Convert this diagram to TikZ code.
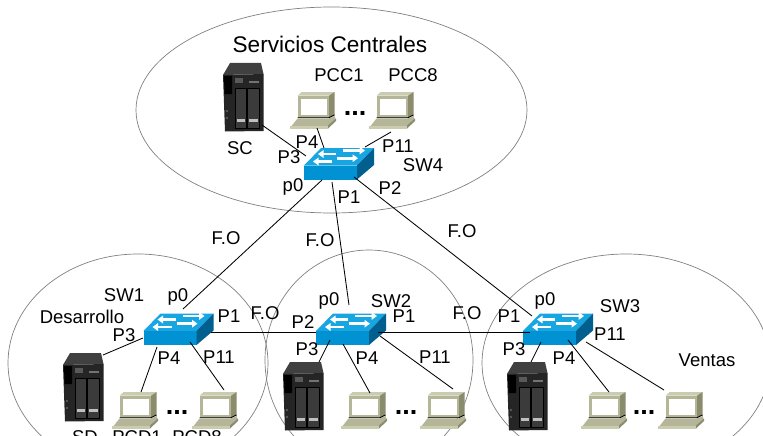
\documentclass[tikz,border=0pt]{standalone}
\usepackage{fontspec}
\setmainfont{Liberation Sans}
\usetikzlibrary{arrows.meta}
\definecolor{swfront}{HTML}{0092D2}
\definecolor{swtop}{HTML}{17A6E2}
\definecolor{swside}{HTML}{005F8E}
\definecolor{pcface}{HTML}{B5B597}
\definecolor{pcdark}{HTML}{8B8B6D}
\definecolor{pclight}{HTML}{CBCBB0}
\definecolor{srvdark}{HTML}{252525}
\definecolor{srvtop}{HTML}{404040}
\definecolor{srvbay}{HTML}{3B3B3B}
\tikzset{
  x=1pt,y=-1pt,
  zone/.style={draw=black!50,line width=0.7pt},
  link/.style={draw=black,line width=0.85pt},
  lab/.style={inner sep=0pt,font=\fontsize{18.5}{20}\selectfont},
  title/.style={inner sep=0pt,font=\fontsize{22.6}{24}\selectfont},
  dots/.style={inner sep=0pt,font=\fontsize{27}{28}\selectfont\bfseries},
  swarrow/.style={draw=white,line width=2.6pt,-{Triangle[length=5.5pt,width=7.5pt]}},
  swicon/.pic={
    \node[inner sep=0pt,minimum width=70pt,minimum height=31pt] (-box) at (35,-4) {};
    \fill[swtop] (0,0) -- (17,-17.5) -- (70,-17.5) -- (53,0) -- cycle;
    \fill[swfront] (0,0) rectangle (53,14);
    \fill[swside] (53,0) -- (70,-17.5) -- (70,-0.5) -- (53,14) -- cycle;
    \draw[swarrow] (39,-15) -- (61,-15);
    \draw[swarrow] (32,-11.5) -- (14,-11.5);
    \draw[swarrow] (33,-7.3) -- (54,-7.3);
    \draw[swarrow] (28,-4) -- (9,-4);
  },
  srvicon/.pic={
    \node[inner sep=0pt,minimum width=41pt,minimum height=69pt] (-box) at (20.5,34.5) {};
    \fill[srvtop] (0,12) -- (7,0) -- (38,0) -- (40.5,11) -- cycle;
    \fill[srvdark] (0,12) -- (40.5,11) -- (40.5,68) -- (2,68.5) -- cycle;
    \fill[black] (1,13) -- (9,13) -- (9,31) -- (1.5,31) -- cycle;
    \fill[black!65] (12,15) rectangle (20,20);
    \fill[black!55] (26,18) rectangle (36,20);
    \fill[black!60] (4,48) circle (1.2);
    \fill[black!60] (4,55) circle (1.2);
    \draw[black,line width=1pt,fill=srvbay] (12.5,25) rectangle (23.5,65);
    \draw[black,line width=1pt,fill=srvbay] (24.5,25) rectangle (36,65);
    \fill[black!25] (14,56) rectangle (22,58.5);
    \fill[black!25] (26,56) rectangle (34.5,58.5);
  },
  pcicon/.pic={
    \node[inner sep=0pt,minimum width=46pt,minimum height=37pt] (-box) at (23,18.5) {};
    \fill[pclight] (7.5,3.7) -- (11.7,0) -- (44.5,0) -- (39,3.7) -- cycle;
    \fill[pcface] (7.5,3.7) rectangle (39,25.5);
    \fill[pcdark] (39,3.7) -- (44.5,0) -- (44.5,23) -- (39,25.5) -- cycle;
    \fill[white] (11,6.7) rectangle (36.5,22.7);
    \fill[pcface] (7.5,26.5) -- (0,36) -- (38,36) -- (46,28) -- (44.5,24) -- (39,26.5) -- cycle;
    \fill[pcdark] (38,36.5) -- (46,29) -- (46,26.5) -- (38,33.5) -- cycle;
    \fill[pclight] (0,34) -- (38,34) -- (38,37) -- (0,37) -- cycle;
    \draw[black,line width=0.9pt] (7.5,25.7) -- (39,25.7) -- (44.5,23);
  }
}
\begin{document}
\begin{tikzpicture}
\useasboundingbox (0,0) rectangle (763,436);
\clip (0,0) rectangle (763,436);
% zones
\draw[zone] (331.5,110) ellipse [x radius=195.5,y radius=103];
\draw[zone] (138,363) ellipse [x radius=130,y radius=109];
\draw[zone] (369,360) ellipse [x radius=104,y radius=110];
\draw[zone] (626,363) ellipse [x radius=144,y radius=109];
% switches
\pic (sw4) at (304,165.5) {swicon};
\pic (sw1) at (143.5,331) {swicon};
\pic (sw2) at (316,331) {swicon};
\pic (sw3) at (523,331) {swicon};
% servers
\pic (sc) at (223,63) {srvicon};
\pic (sd) at (63,353) {srvicon};
\pic (sb) at (283,362) {srvicon};
\pic (sv) at (507,362) {srvicon};
% hosts
\pic (pcc1) at (290,92) {pcicon};
\pic (pcc8) at (369,92) {pcicon};
\pic (pcd1) at (112,392) {pcicon};
\pic (pcd8) at (192,392) {pcicon};
\pic (pcb1) at (341,392) {pcicon};
\pic (pcb8) at (420,392) {pcicon};
\pic (pcv1) at (581,392) {pcicon};
\pic (pcv8) at (658,392) {pcicon};
% port points
\coordinate (sc-p) at (262,125);
\coordinate (sw4-p3) at (306,156);
\coordinate (pcc1-p) at (317,128);
\coordinate (sw4-p4) at (324,148);
\coordinate (pcc8-p) at (391,132);
\coordinate (sw4-p11) at (365,147);
\coordinate (sw4-p0) at (322,180);
\coordinate (sw1-p0) at (183,309);
\coordinate (sw4-p1) at (332,182);
\coordinate (sw2-p0) at (349,305);
\coordinate (sw4-p2) at (354,177);
\coordinate (sw3-p0) at (532,316);
\coordinate (sw1-p1) at (211,332);
\coordinate (sw2-p2) at (316,332);
\coordinate (sw2-p1) at (378,332);
\coordinate (sw3-p1) at (530,332);
\coordinate (sw1-p3) at (143,338);
\coordinate (sd-p) at (103,355);
\coordinate (sw1-p4) at (157,347);
\coordinate (pcd1-p) at (141,392);
\coordinate (sw1-p11) at (190,342);
\coordinate (pcd8-p) at (224,390);
\coordinate (sw2-p3) at (330,340);
\coordinate (sb-p) at (319,362);
\coordinate (sw2-p4) at (343,344);
\coordinate (pcb1-p) at (370,393);
\coordinate (sw2-p11) at (380,336);
\coordinate (pcb8-p) at (453,389);
\coordinate (sw3-p3) at (541,342);
\coordinate (sv-p) at (531,362);
\coordinate (sw3-p4) at (568,340);
\coordinate (pcv1-p) at (609,392);
\coordinate (sw3-p11) at (586,342);
\coordinate (pcv8-p) at (664,390);
% connectors
\draw[link] (sc-p) -- (sw4-p3);
\draw[link] (pcc1-p) -- (sw4-p4);
\draw[link] (pcc8-p) -- (sw4-p11);
\draw[link] (sw4-p0) -- (sw1-p0);
\draw[link] (sw4-p1) -- (sw2-p0);
\draw[link] (sw4-p2) -- (sw3-p0);
\draw[link] (sw1-p1) -- (sw2-p2);
\draw[link] (sw2-p1) -- (sw3-p1);
\draw[link] (sw1-p3) -- (sd-p);
\draw[link] (sw1-p4) -- (pcd1-p);
\draw[link] (sw1-p11) -- (pcd8-p);
\draw[link] (sw2-p3) -- (sb-p);
\draw[link] (sw2-p4) -- (pcb1-p);
\draw[link] (sw2-p11) -- (pcb8-p);
\draw[link] (sw3-p3) -- (sv-p);
\draw[link] (sw3-p4) -- (pcv1-p);
\draw[link] (sw3-p11) -- (pcv8-p);
% labels
\node[title] (t1) at (330,44) {Servicios Centrales};
\node[lab] (t2) at (339,75) {PCC1};
\node[lab] (t3) at (413,75) {PCC8};
\node[dots] (t4) at (355,113.5) {...};
\node[lab] (t5) at (240,148) {SC};
\node[lab] (t6) at (307,142) {P4};
\node[lab] (t7) at (289,157) {P3};
\node[lab] (t8) at (398,146) {P11};
\node[lab] (t9) at (423,165) {SW4};
\node[lab] (t10) at (293,187) {p0};
\node[lab] (t11) at (349,197) {P1};
\node[lab] (t12) at (390,188) {P2};
\node[lab] (t13) at (226,238) {F.O};
\node[lab] (t14) at (320,240) {F.O};
\node[lab] (t15) at (462,231) {F.O};
\node[lab] (t16) at (265,313) {F.O};
\node[lab] (t17) at (467,313) {F.O};
\node[lab] (t18) at (124,295) {SW1};
\node[lab] (t19) at (178,297) {p0};
\node[lab] (t20) at (82,317) {Desarrollo};
\node[lab] (t21) at (124,335) {P3};
\node[lab] (t22) at (229,316) {P1};
\node[lab] (t23) at (169,358) {P4};
\node[lab] (t24) at (219,357) {P11};
\node[dots] (t25) at (177,412.5) {...};
\node[lab] (t26) at (85,437) {SD};
\node[lab] (t27) at (137,437) {PCD1};
\node[lab] (t28) at (197,437) {PCD8};
\node[lab] (t29) at (329,301) {p0};
\node[lab] (t30) at (391,301) {SW2};
\node[lab] (t31) at (303,322) {P2};
\node[lab] (t32) at (404,316) {P1};
\node[lab] (t33) at (307,349) {P3};
\node[lab] (t34) at (367,358) {P4};
\node[lab] (t35) at (435,357) {P11};
\node[dots] (t36) at (406,412.5) {...};
\node[lab] (t37) at (545,301) {p0};
\node[lab] (t38) at (620,306) {SW3};
\node[lab] (t39) at (509,316) {P1};
\node[lab] (t40) at (514,349) {P3};
\node[lab] (t41) at (610,334) {P11};
\node[lab] (t42) at (564,358) {P4};
\node[lab] (t43) at (707,360) {Ventas};
\node[dots] (t44) at (644,412.5) {...};
\end{tikzpicture}
\end{document}
